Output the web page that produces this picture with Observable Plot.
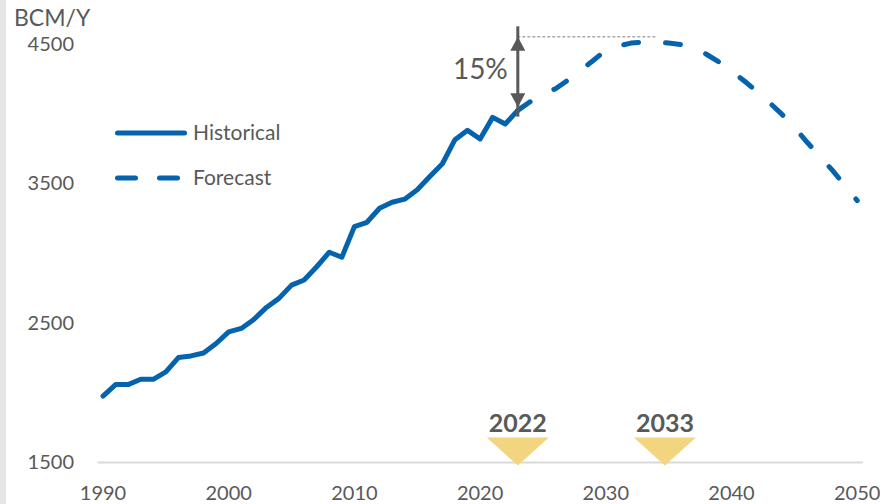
<!DOCTYPE html>
<html><head><meta charset="utf-8">
<script src="https://cdn.jsdelivr.net/npm/d3@7"></script>
<script src="https://cdn.jsdelivr.net/npm/@observablehq/plot@0.6"></script>
<style>
html,body{margin:0;padding:0;background:#fff;}
#wrap{position:relative;width:880px;height:504px;overflow:hidden;}
#strip{position:absolute;left:0;top:0;width:6px;height:504px;background:#e6e6e6;}
#chart{position:absolute;left:0;top:0;}
</style></head>
<body><div id="wrap"><div id="strip"></div><div id="chart"></div></div>
<script>
// ---- data ----
const histYears = [1990,1991,1992,1993,1994,1995,1996,1997,1998,1999,2000,2001,2002,2003,2004,2005,2006,2007,2008,2009,2010,2011,2012,2013,2014,2015,2016,2017,2018,2019,2020,2021,2022,2023];
const histValues = [1977,2059,2059,2097,2097,2150,2253,2265,2286,2354,2437,2462,2527,2613,2678,2773,2810,2905,3009,2973,3193,3224,3325,3368,3390,3457,3553,3644,3817,3884,3822,3977,3929,4027];
const fcYears = [2023,2024,2025,2026,2027,2028,2029,2030,2031,2032,2033,2034,2035,2036,2037,2038,2039,2040,2041,2042,2043,2044,2045,2046,2047,2048,2049,2050];
const fcValues = [4027,4090,4150,4182,4245,4315,4385,4459,4490,4510,4518,4518,4510,4500,4475,4430,4375,4310,4240,4164,4085,4000,3905,3800,3700,3600,3490,3380];
const xTicks = [1990,2000,2010,2020,2030,2040,2050];
const yTicks = [1500,2500,3500,4500];
const markerLabels = ["2022","2033"];
const markerX = [2023,2034.7];
const gapX = 2023, gapBase = 4050, gapTop = 4555, gapEndX = 2034, gapLabel = "15%";
const unitLabel = "BCM/Y";
const legendLabels = ["Historical","Forecast"];

// ---- styles ----
const blue = "#0563AD", grey = "#595959", gold = "#F3D47F";
const FONT = "Lato, 'Open Sans', sans-serif";

const hist = histYears.map((x,i)=>({x, y: histValues[i]}));
const fc = fcYears.map((x,i)=>({x, y: fcValues[i]}));
const markers = markerLabels.map((t,i)=>({x: markerX[i], text: t}));

const invTri = {draw(ctx){ ctx.moveTo(-31,-25); ctx.lineTo(31,-25); ctx.lineTo(0,3); ctx.closePath(); }};
const headUp = {draw(ctx){ ctx.moveTo(0,0); ctx.lineTo(7.5,14); ctx.lineTo(-7.5,14); ctx.closePath(); }};
const headDown = {draw(ctx){ ctx.moveTo(0,0); ctx.lineTo(7.5,-14); ctx.lineTo(-7.5,-14); ctx.closePath(); }};

const chart = Plot.plot({
  width: 880, height: 504,
  marginLeft: 102.5, marginRight: 23.3, marginTop: 44, marginBottom: 42,
  style: {fontFamily: FONT, fontSize: "20px", color: grey, background: "transparent", overflow: "visible"},
  x: {domain: [1990, 2050], ticks: xTicks, tickFormat: "d", tickSize: 0, tickPadding: 23, label: null},
  y: {domain: [1500, 4500], ticks: yTicks, tickFormat: "d", tickSize: 0, tickPadding: 29, label: null},
  marks: [
    Plot.ruleY([yTicks[0]], {stroke: "#d9d9d9", strokeWidth: 2, insetLeft: -5, insetRight: -6}),
    Plot.line(hist, {x: "x", y: "y", stroke: blue, strokeWidth: 5, strokeLinejoin: "round", strokeLinecap: "round", clip: false}),
    Plot.line(fc, {x: "x", y: "y", stroke: blue, strokeWidth: 5, strokeLinecap: "round", strokeDasharray: "15,27", clip: false}),
    Plot.ruleY([gapTop], {x1: gapX, x2: gapEndX, stroke: "#7f7f7f", strokeWidth: 1, strokeDasharray: "3,2"}),
    Plot.ruleX([gapX], {y1: gapBase, y2: gapTop, stroke: grey, strokeWidth: 3, insetTop: 10, insetBottom: 10}),
    Plot.dot([{x: gapX, y: gapTop}], {x: "x", y: "y", symbol: headUp, fill: grey, stroke: null}),
    Plot.dot([{x: gapX, y: gapBase}], {x: "x", y: "y", symbol: headDown, fill: grey, stroke: null}),
    Plot.text([gapLabel], {x: gapX, y: (gapBase + gapTop) / 2, text: d => d, textAnchor: "end", dx: -10, dy: -2, fontSize: 28, fill: grey}),
    Plot.dot(markers, {x: "x", y: () => yTicks[0], symbol: invTri, fill: gold, stroke: null}),
    Plot.text(markers, {x: "x", y: () => yTicks[0], text: "text", dy: -39, fontSize: 25, fontWeight: "bold", fill: grey})
  ]
});
document.getElementById("chart").appendChild(chart);

// ---- unit label & legend (layout) ----
const svg = d3.select(chart);
svg.append("text").attr("x", 14).attr("y", 25.5).attr("fill", grey).attr("text-anchor", "start")
  .style("font-family", FONT).style("font-size", "23px").text(unitLabel);
const lg = svg.append("g").attr("text-anchor", "start");
lg.append("line").attr("x1", 117.5).attr("x2", 184.5).attr("y1", 133).attr("y2", 133)
  .attr("stroke", blue).attr("stroke-width", 5).attr("stroke-linecap", "round");
lg.append("line").attr("x1", 117.5).attr("x2", 177.5).attr("y1", 178).attr("y2", 178)
  .attr("stroke", blue).attr("stroke-width", 5).attr("stroke-linecap", "round").attr("stroke-dasharray", "18,24");
legendLabels.forEach((t, i) => {
  lg.append("text").attr("x", 193).attr("y", i === 0 ? 133 : 178).attr("dy", "0.35em")
    .attr("text-anchor", "start").attr("fill", grey)
    .style("font-family", FONT).style("font-size", "21px").text(t);
});
</script>
</body></html>
